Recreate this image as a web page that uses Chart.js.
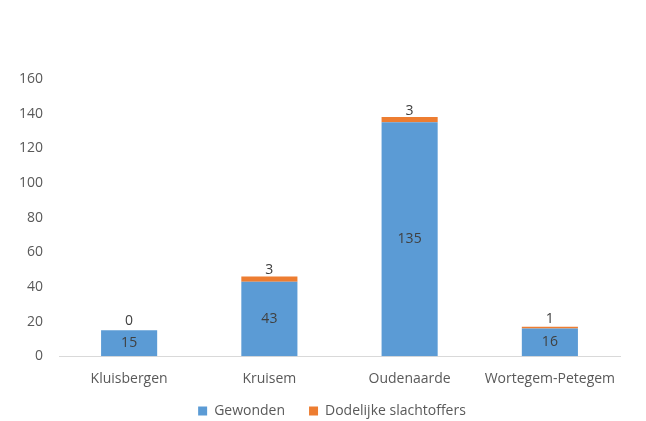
<!DOCTYPE html>
<html><head><meta charset="utf-8">
<script src="https://cdn.jsdelivr.net/npm/chart.js@4/dist/chart.umd.min.js"></script>
<style>html,body{margin:0;padding:0;background:#fff}#w{width:646px;height:421px}</style>
</head><body><div id="w"><canvas id="c" width="646" height="421"></canvas></div>
<script>
const categories = ["Kluisbergen", "Kruisem", "Oudenaarde", "Wortegem-Petegem"];
const gewonden = [15, 43, 135, 16];
const dodelijke = [0, 3, 3, 1];
const seriesNames = ["Gewonden", "Dodelijke slachtoffers"];
const yTicks = [0, 20, 40, 60, 80, 100, 120, 140, 160];

const FONT = "'Open Sans', 'Liberation Sans', sans-serif";
const labelPlugin = {
  id: 'vals',
  afterLayout(chart) {
    if (chart.legend) { chart.legend.left += 22; chart.legend.right += 22; }
  },
  afterDatasetsDraw(chart) {
    const ctx = chart.ctx;
    ctx.save();
    ctx.font = "14px " + FONT;
    ctx.fillStyle = "#404040";
    ctx.textAlign = "center";
    ctx.textBaseline = "middle";
    const m0 = chart.getDatasetMeta(0), m1 = chart.getDatasetMeta(1);
    m0.data.forEach((bar, i) => {
      ctx.fillText(String(gewonden[i]), bar.x, (bar.y + bar.base) / 2);
    });
    m1.data.forEach((bar, i) => {
      ctx.fillText(String(dodelijke[i]), bar.x, (bar.y + bar.base) / 2 - 9);
    });
    ctx.restore();
  }
};

new Chart(document.getElementById('c'), {
  type: 'bar',
  data: {
    labels: categories,
    datasets: [
      { label: seriesNames[0], data: gewonden, backgroundColor: '#5B9BD5', categoryPercentage: 1, barPercentage: 0.4 },
      { label: seriesNames[1], data: dodelijke, backgroundColor: '#ED7D31', categoryPercentage: 1, barPercentage: 0.4 }
    ]
  },
  options: {
    responsive: false,
    animation: false,
    layout: { padding: { top: 79, right: 26, left: 0, bottom: -7 } },
    scales: {
      x: {
        stacked: true,
        grid: { display: false, drawTicks: false },
        border: { display: true, color: '#D9D9D9' },
        afterFit(scale) { scale.height -= 21; scale._computeLabelArea = () => undefined; },
        ticks: { color: '#595959', font: { family: FONT, size: 14 }, padding: 14 }
      },
      y: {
        stacked: true,
        min: 0, max: 160,
        afterBuildTicks(scale) { scale.ticks = yTicks.map(v => ({ value: v })); },
        afterFit(scale) { scale.width = 59; },
        grid: { display: false, drawTicks: false },
        border: { display: false },
        ticks: { color: '#595959', font: { family: FONT, size: 14 }, padding: 16 }
      }
    },
    plugins: {
      legend: {
        position: 'bottom',
        labels: { color: '#595959', font: { family: FONT, size: 14 }, boxWidth: 9, boxHeight: 9, padding: 24 }
      },
      tooltip: { enabled: false }
    }
  },
  plugins: [labelPlugin]
});
</script></body></html>
